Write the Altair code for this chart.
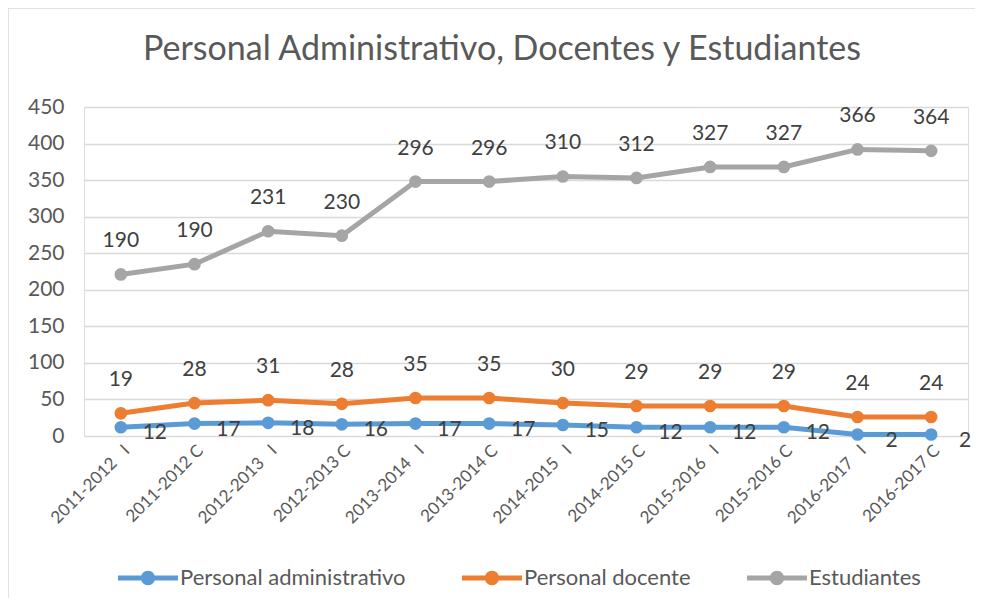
import altair as alt
import pandas as pd

periods = ["2011-2012\u00a0\u00a0\u00a0I", "2011-2012 C", "2012-2013\u00a0\u00a0\u00a0I", "2012-2013 C",
           "2013-2014\u00a0\u00a0\u00a0I", "2013-2014 C", "2014-2015\u00a0\u00a0\u00a0I", "2014-2015 C",
           "2015-2016\u00a0\u00a0\u00a0I", "2015-2016 C", "2016-2017\u00a0\u00a0\u00a0I", "2016-2017 C"]
admin = [12, 17, 18, 16, 17, 17, 15, 12, 12, 12, 2, 2]
docente = [19, 28, 31, 28, 35, 35, 30, 29, 29, 29, 24, 24]
estudiantes = [190, 190, 231, 230, 296, 296, 310, 312, 327, 327, 366, 364]

series_names = ["Personal administrativo", "Personal docente", "Estudiantes"]
colors = ["#5B9BD5", "#ED7D31", "#A5A5A5"]

rows = []
for i, p in enumerate(periods):
    cum = 0
    for s, vals in zip(series_names, [admin, docente, estudiantes]):
        cum += vals[i]
        rows.append({"periodo": p, "serie": s, "valor": vals[i], "acum": cum})
df = pd.DataFrame(rows)

FONT = "Lato"
legend_path = ("M-1,-0.085 L-0.22,-0.085 L-0.22,0.085 L-1,0.085 Z "
               "M0.22,-0.085 L1,-0.085 L1,0.085 L0.22,0.085 Z "
               "M-0.24,0 A0.24,0.24 0 1,1 0.24,0 A0.24,0.24 0 1,1 -0.24,0 Z")

x = alt.X("periodo:N", sort=periods, title=None,
          axis=alt.Axis(labelAngle=-45, labelFontSize=17, labelColor="#595959", labelFont=FONT,
                        ticks=False, domainColor="#d9d9d9", labelPadding=6, labelLimit=0))
y = alt.Y("acum:Q", title=None, scale=alt.Scale(domain=[0, 450]),
          axis=alt.Axis(values=list(range(0, 451, 50)), labelFontSize=21, labelColor="#595959",
                        labelFont=FONT, ticks=False, domain=False, gridColor="#d9d9d9",
                        gridWidth=1.3, labelPadding=20))
color = alt.Color("serie:N", sort=series_names,
                  scale=alt.Scale(domain=series_names, range=colors),
                  legend=alt.Legend(title=None, orient="none", direction="horizontal",
                                    legendX=34, legendY=441,
                                    symbolType=legend_path, symbolSize=3600, symbolStrokeWidth=0,
                                    labelFontSize=22, labelColor="#595959", labelFont=FONT,
                                    columnPadding=56, labelOffset=2, labelLimit=0))

frame = alt.Chart(pd.DataFrame({"k": [0]})).mark_rect(
    fill=None, stroke="#d9d9d9", strokeWidth=1.5).encode(
    x=alt.value(-76), x2=alt.value(920), y=alt.value(-99), y2=alt.value(520))

base = alt.Chart(df)
lines = base.mark_line(strokeWidth=5).encode(x=x, y=y, color=color, detail="serie:N")
points = base.mark_circle(size=160, opacity=1).encode(x=x, y=y, color=color)
labels_top = base.transform_filter(alt.datum.serie != "Personal administrativo").mark_text(
    dy=-33, fontSize=21, color="#404040", font=FONT).encode(x=x, y=y, text="valor:Q")
labels_admin = base.transform_filter(alt.datum.serie == "Personal administrativo").mark_text(
    dx=34, dy=6, fontSize=21, color="#404040", font=FONT).encode(x=x, y=y, text="valor:Q")

chart = alt.layer(frame, lines, points, labels_top, labels_admin).properties(
    width=884, height=329,
    title=alt.TitleParams("Personal Administrativo, Docentes y Estudiantes", fontSize=34,
                          font=FONT, color="#595959", fontWeight="normal", offset=-60, dx=-24),
    autosize=alt.AutoSizeParams(type="none"),
    padding={"left": 76, "top": 99, "right": 7, "bottom": 162},
).configure_view(stroke=None).configure(background="white")

chart.save("out.html", embed_options={"renderer": "svg", "actions": False})
